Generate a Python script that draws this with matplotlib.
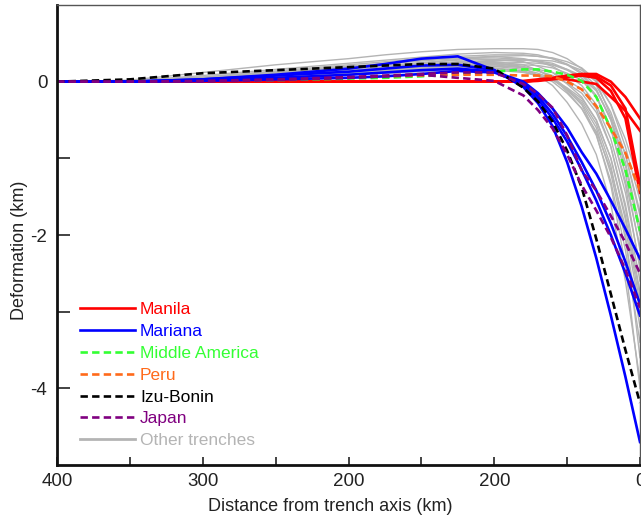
import numpy as np
import matplotlib.pyplot as plt
from matplotlib.ticker import FixedLocator, FixedFormatter
from matplotlib.lines import Line2D

plt.rcParams['font.family'] = ['Liberation Sans', 'DejaVu Sans']

# distance from trench axis (km), common sampling for every profile
dist = [400, 350, 300, 250, 200, 175, 150, 125, 100, 80, 70, 60, 50, 40, 30, 20, 10, 0]

# highlighted trenches (deformation in km)
manila = [
    [0, 0, 0, 0, 0, 0, 0, 0, 0, 0.0, 0.02, 0.04, 0.07, 0.08, 0.05, -0.12, -0.48, -1.45],
    [0, 0, 0, 0, 0, 0, 0, 0, 0, 0.01, 0.03, 0.05, 0.08, 0.10, 0.10, 0.0, -0.20, -0.48],
    [0, 0, 0, 0, 0, 0, 0, 0, 0, 0.0, 0.02, 0.04, 0.03, 0.0, -0.03, -0.20, -0.38, -0.64],
    [0, 0, 0, 0, 0, 0, 0, 0, 0, 0.0, 0.01, 0.03, 0.06, 0.08, 0.07, -0.05, -0.35, -1.35],
]
mariana = [
    [0, 0, 0.03, 0.09, 0.17, 0.23, 0.30, 0.33, 0.15, -0.07, -0.28, -0.58, -1.05, -1.63, -2.30, -3.05, -3.85, -4.70],
    [0, 0, 0.03, 0.08, 0.13, 0.17, 0.21, 0.22, 0.15, -0.05, -0.23, -0.48, -0.78, -1.15, -1.55, -2.00, -2.50, -3.05],
    [0, 0, 0.02, 0.05, 0.09, 0.12, 0.15, 0.17, 0.13, 0.0, -0.15, -0.35, -0.60, -0.92, -1.20, -1.55, -1.92, -2.31],
    [0, 0, 0.01, 0.03, 0.05, 0.07, 0.10, 0.14, 0.12, -0.02, -0.19, -0.42, -0.71, -1.05, -1.42, -1.85, -2.35, -2.90],
]
middle_america = [0, 0, 0.01, 0.02, 0.04, 0.05, 0.07, 0.10, 0.13, 0.16, 0.16, 0.13, 0.09, 0.01, -0.20, -0.62, -1.15, -1.95]
peru = [0, 0, 0.01, 0.03, 0.06, 0.07, 0.08, 0.09, 0.09, 0.08, 0.08, 0.07, 0.0, -0.10, -0.32, -0.61, -0.93, -1.42]
izu_bonin = [0, 0.03, 0.11, 0.15, 0.19, 0.21, 0.23, 0.23, 0.17, -0.08, -0.26, -0.52, -0.90, -1.38, -2.05, -2.77, -3.50, -4.19]
japan = [
    [0, 0, 0.0, 0.02, 0.05, 0.07, 0.09, 0.05, 0.01, -0.18, -0.37, -0.61, -0.95, -1.35, -1.68, -2.03, -2.45, -2.95],
    [0, 0, 0.01, 0.03, 0.06, 0.08, 0.10, 0.12, 0.12, -0.03, -0.16, -0.34, -0.70, -1.16, -1.42, -1.75, -2.10, -2.50],
]

# other trenches
others = [
    [0, 0.02, 0.12, 0.22, 0.30, 0.35, 0.39, 0.42, 0.43, 0.43, 0.42, 0.38, 0.30, 0.17, 0.0, -0.45, -0.95, -1.70],
    [0, 0.01, 0.08, 0.16, 0.24, 0.28, 0.32, 0.36, 0.38, 0.37, 0.35, 0.30, 0.22, 0.10, -0.10, -0.50, -1.10, -2.00],
    [0, 0.01, 0.06, 0.13, 0.20, 0.24, 0.28, 0.31, 0.33, 0.30, 0.26, 0.20, 0.09, -0.05, -0.30, -0.75, -1.45, -2.40],
    [0, 0.01, 0.05, 0.11, 0.18, 0.21, 0.25, 0.28, 0.29, 0.26, 0.20, 0.12, -0.03, -0.20, -0.50, -1.00, -1.80, -2.90],
    [0, 0.0, 0.04, 0.09, 0.15, 0.18, 0.22, 0.25, 0.26, 0.22, 0.15, 0.05, -0.13, -0.35, -0.70, -1.30, -2.20, -3.40],
    [0, 0.0, 0.04, 0.10, 0.17, 0.20, 0.23, 0.26, 0.25, 0.18, 0.08, -0.05, -0.27, -0.55, -0.95, -1.60, -2.60, -3.90],
    [0, 0.0, 0.03, 0.08, 0.14, 0.17, 0.20, 0.22, 0.22, 0.18, 0.14, 0.08, -0.02, -0.15, -0.40, -0.85, -1.60, -2.60],
    [0, 0.0, 0.03, 0.07, 0.12, 0.15, 0.18, 0.21, 0.24, 0.25, 0.24, 0.22, 0.16, 0.08, -0.10, -0.50, -1.20, -2.20],
    [0, 0.0, 0.02, 0.06, 0.11, 0.14, 0.17, 0.20, 0.22, 0.22, 0.21, 0.18, 0.11, 0.02, -0.20, -0.62, -1.30, -2.15],
    [0, 0.0, 0.02, 0.05, 0.10, 0.12, 0.15, 0.18, 0.20, 0.19, 0.16, 0.12, 0.02, -0.10, -0.35, -0.85, -1.65, -2.75],
    [0, 0.0, 0.03, 0.08, 0.15, 0.19, 0.24, 0.29, 0.33, 0.34, 0.33, 0.31, 0.26, 0.18, 0.02, -0.30, -0.85, -1.55],
    [0, 0.0, 0.02, 0.06, 0.12, 0.15, 0.19, 0.23, 0.27, 0.28, 0.27, 0.24, 0.16, 0.05, -0.18, -0.60, -1.35, -2.45],
    [0, 0.0, 0.02, 0.05, 0.09, 0.11, 0.14, 0.16, 0.17, 0.13, 0.07, 0.0, -0.15, -0.35, -0.65, -1.15, -1.90, -3.00],
    [0, 0.0, 0.03, 0.07, 0.13, 0.16, 0.20, 0.23, 0.24, 0.20, 0.14, 0.06, -0.09, -0.28, -0.60, -1.20, -2.05, -3.20],
    [0, 0.0, 0.02, 0.06, 0.11, 0.13, 0.16, 0.18, 0.18, 0.14, 0.09, 0.03, -0.08, -0.22, -0.50, -1.00, -1.75, -2.80],
    [0, 0.01, 0.05, 0.12, 0.19, 0.23, 0.27, 0.30, 0.31, 0.29, 0.26, 0.22, 0.15, 0.05, -0.12, -0.48, -1.05, -1.90],
    [0, 0.0, 0.02, 0.05, 0.09, 0.11, 0.13, 0.15, 0.15, 0.12, 0.08, 0.02, -0.10, -0.25, -0.55, -1.10, -2.00, -3.60],
    [0, 0.0, 0.03, 0.08, 0.14, 0.17, 0.21, 0.25, 0.28, 0.29, 0.28, 0.27, 0.22, 0.15, 0.0, -0.30, -0.75, -1.35],
    [0, 0.0, 0.03, 0.07, 0.12, 0.14, 0.17, 0.19, 0.20, 0.16, 0.11, 0.04, -0.11, -0.30, -0.68, -1.35, -2.40, -4.00],
    [0, 0.01, 0.06, 0.14, 0.22, 0.26, 0.30, 0.33, 0.35, 0.35, 0.33, 0.30, 0.23, 0.12, -0.05, -0.40, -0.95, -1.75],
]

xtick_pos = [400, 300, 200, 100, 0]
xtick_labels = ['400', '300', '200', '200', '0']
ytick_pos = [0, -2, -4]
ytick_labels = ['0', '-2', '-4']

c_red = '#ff0000'
c_blue = '#0000ff'
c_green = '#33ff33'
c_orange = '#ff6a1a'
c_black = '#000000'
c_purple = '#800080'
c_gray = '#b4b4b4'
dash = (2.8, 1.6)
lw = 1.9

fig = plt.figure(figsize=(6.41, 5.25), dpi=100)
ax = fig.add_axes([57 / 641, 60 / 525, 583 / 641, 460 / 525])

for prof in others:
    h_gray, = ax.plot(dist, prof, color=c_gray, lw=1.0, solid_joinstyle='round')
for prof in manila:
    h_red, = ax.plot(dist, prof, color=c_red, lw=lw, solid_joinstyle='round')
h_green, = ax.plot(dist, middle_america, color=c_green, lw=lw, ls='--', dashes=dash)
h_orange, = ax.plot(dist, peru, color=c_orange, lw=lw, ls='--', dashes=dash)
for prof in mariana:
    h_blue, = ax.plot(dist, prof, color=c_blue, lw=lw, solid_joinstyle='round')
h_black, = ax.plot(dist, izu_bonin, color=c_black, lw=lw, ls='--', dashes=dash)
for prof in japan:
    h_purple, = ax.plot(dist, prof, color=c_purple, lw=lw, ls='--', dashes=dash)

ax.set_xlim(400, 0)
ax.set_ylim(-5, 1)

ax.xaxis.set_major_locator(FixedLocator(xtick_pos))
ax.xaxis.set_major_formatter(FixedFormatter(xtick_labels))
ax.xaxis.set_minor_locator(FixedLocator([350, 250, 150, 50]))
ax.yaxis.set_major_locator(FixedLocator(ytick_pos))
ax.yaxis.set_major_formatter(FixedFormatter(ytick_labels))
ax.yaxis.set_minor_locator(FixedLocator([-1, -3]))

ax.tick_params(axis='x', which='both', direction='in', length=6, width=1.2,
               labelsize=13.5, pad=6, colors='#222222')
ax.tick_params(axis='y', which='both', direction='in', length=9, width=1.2,
               labelsize=13.5, pad=7, colors='#222222')

for s in ['left', 'bottom']:
    ax.spines[s].set_linewidth(2.0)
    ax.spines[s].set_color('#111111')
for s in ['top', 'right']:
    ax.spines[s].set_linewidth(1.0)
    ax.spines[s].set_color('#555555')

ax.set_xlabel('Distance from trench axis (km)', fontsize=13, color='#222222')
ax.set_ylabel('Deformation (km)', fontsize=13, color='#222222')
ax.xaxis.set_label_coords(0.468, -0.072)
ax.yaxis.set_label_coords(-0.05, 0.467)

handles = [h_red, h_blue, h_green, h_orange, h_black, h_purple, h_gray]
labels = ['Manila', 'Mariana', 'Middle America', 'Peru', 'Izu-Bonin', 'Japan', 'Other trenches']
leg_handles = [Line2D([], [], color=h.get_color(), lw=(lw if h is not h_gray else 2.0),
                      ls=h.get_linestyle(), dashes=(dash if h.get_linestyle() == '--' else (None, None)))
               for h in handles]
leg = ax.legend(leg_handles, labels, loc='upper left', bbox_to_anchor=(0.0395, 0.354),
                frameon=False, fontsize=12.5, handlelength=3.15, handletextpad=0.3,
                labelspacing=0.385, borderpad=0, borderaxespad=0)
for t, h in zip(leg.get_texts(), handles):
    t.set_color(h.get_color())

fig.savefig('out.png', dpi=100)
